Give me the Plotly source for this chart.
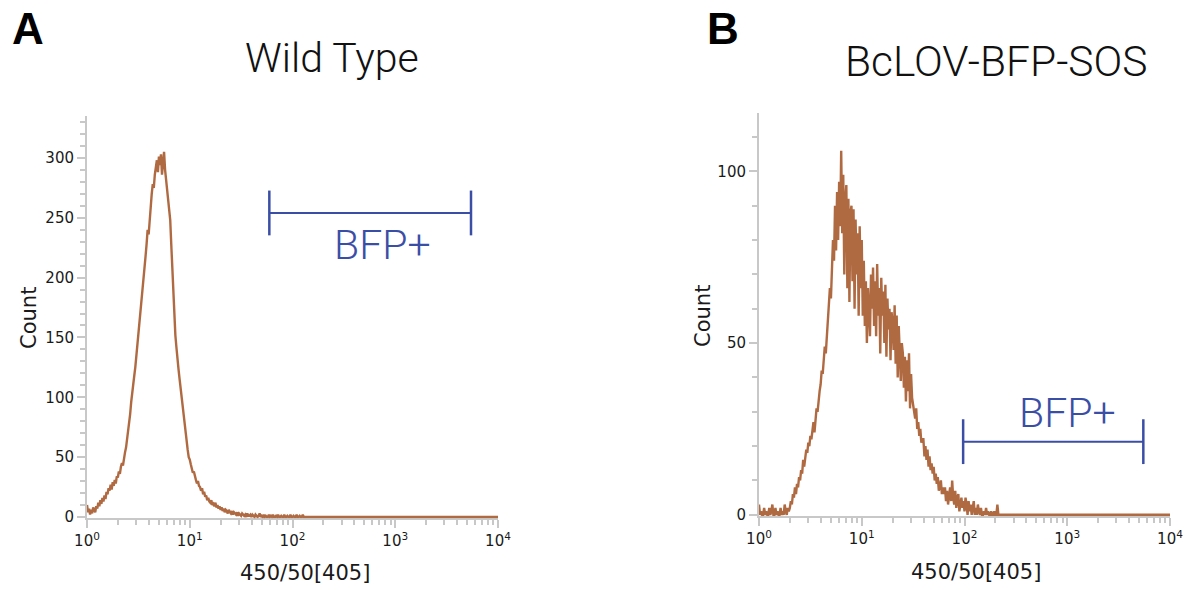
import math
import plotly.graph_objects as go

# ---------------- data ----------------
LOG_START = 0.0
LOG_STEP = 0.01
LOG_END = 4.0

# Wild Type histogram counts, one per log-bin (step 0.01 decade) starting at 10^0
wt_counts = [
    10, 4, 7, 2, 6, 3, 8, 5, 4, 9,
    7, 12, 9, 14, 11, 16, 13, 18, 15, 21,
    19, 24, 22, 27, 23, 29, 26, 31, 28, 34,
    33, 38, 36, 42, 45, 43, 50, 54, 58, 64,
    72, 78, 86, 96, 102, 110, 118, 125, 134, 141,
    150, 158, 168, 176, 186, 196, 204, 218, 228, 240,
    236, 250, 262, 270, 278, 275, 286, 292, 298, 288,
    301, 294, 303, 286, 299, 305, 290, 282, 272, 262,
    258, 248, 228, 205, 190, 170, 152, 142, 130, 124,
    116, 108, 104, 96, 88, 76, 68, 62, 56, 50,
    48, 44, 41, 37, 38, 33, 31, 28, 30, 26,
    25, 22, 24, 19, 21, 17, 18, 14, 16, 13,
    12, 14, 10, 11, 9, 12, 8, 10, 7, 9,
    6, 8, 5, 7, 4, 6, 5, 3, 6, 4,
    3, 5, 2, 4, 3, 2, 4, 1, 3, 2,
    1, 3, 2, 1, 2, 0, 3, 1, 1, 2,
    0, 2, 1, 0, 2, 1, 0, 1, 3, 0,
    1, 0, 2, 0, 1, 0, 0, 2, 0, 1,
    0, 2, 0, 0, 1, 0, 2, 0, 0, 1,
    0, 0, 2, 0, 0, 1, 0, 0, 2, 0,
    0, 1, 0, 0, 2, 0, 0, 1, 0, 0,
    2, 0, 0,
]

# BcLOV-BFP-SOS histogram counts, same binning
bclov_counts = [
    3, 0, 1, 0, 0, 2, 0, 1, 0, 0,
    2, 0, 1, 3, 0, 0, 2, 0, 1, 0,
    0, 2, 0, 1, 0, 3, 1, 0, 2, 1,
    2, 4, 3, 6, 5, 8, 6, 9, 8, 11,
    10, 13, 12, 16, 14, 17, 19, 18, 21, 20,
    23, 22, 25, 27, 24, 28, 31, 30, 34, 36,
    38, 42, 41, 46, 49, 47, 52, 55, 60, 66,
    63, 72, 80, 74, 90, 77, 94, 80, 97, 84,
    106, 82, 99, 70, 92, 96, 66, 92, 62, 88,
    90, 68, 89, 60, 86, 70, 82, 58, 84, 66,
    80, 58, 74, 55, 68, 50, 66, 60, 52, 70,
    60, 72, 55, 68, 52, 73, 58, 66, 47, 69,
    58, 65, 50, 67, 46, 63, 54, 60, 45, 59,
    56, 48, 61, 44, 58, 40, 55, 47, 39, 50,
    47, 37, 46, 33, 45, 36, 47, 31, 41, 34,
    32, 29, 28, 31, 25, 27, 23, 25, 21, 22,
    22, 17, 20, 16, 19, 14, 17, 13, 15, 12,
    14, 10, 12, 9, 11, 7, 9, 10, 6, 8,
    6, 8, 4, 7, 3, 6, 8, 4, 10, 5,
    3, 7, 2, 5, 6, 1, 4, 5, 2, 4,
    1, 5, 3, 0, 4, 1, 3, 0, 2, 4,
    0, 2, 0, 3, 1, 0, 2, 0, 0, 1,
    0, 2, 0, 1, 0, 0, 1, 0, 0, 1,
    0, 0, 3, 0,
]

x_tick_vals = [1, 10, 100, 1000, 10000]
x_tick_text = ["10<sup>0</sup>", "10<sup>1</sup>", "10<sup>2</sup>", "10<sup>3</sup>", "10<sup>4</sup>"]

panel_letters = ["A", "B"]
panel_titles = ["Wild Type", "BcLOV-BFP-SOS"]
x_title = "450/50[405]"
y_title = "Count"
gate_label = "BFP+"

# gates: [low, high, level]
wt_gate = [59.5, 5460, 254]
bclov_gate = [97, 5500, 21.3]

wt_y_max = 335
bclov_y_max = 117

# ---------------- style ----------------
W, H = 1199, 590
BROWN = "#b06a42"
BLUE = "#3b4ea6"
AXIS = "#c8c8c8"
TXT = "#1a1a1a"
LIGHT_FONT = "Roboto"


def bins(counts):
    n = int(round((LOG_END - LOG_START) / LOG_STEP)) + 1
    padded = list(counts) + [0] * (n - len(counts))
    xs = [10 ** (LOG_START + i * LOG_STEP) for i in range(n)]
    return xs, padded


def px_x(p):
    return p / W


def px_y(p):
    return 1 - p / H


fig = go.Figure()

panels = [
    dict(counts=wt_counts, gate=wt_gate, ymax=wt_y_max, x0=87, x1=498, base=517, top=116,
         ymin=-1.0, label_pos=(2.876, 227)),
    dict(counts=bclov_counts, gate=bclov_gate, ymax=bclov_y_max, x0=759, x1=1170, base=514.8, top=113,
         ymin=-0.35, label_pos=(3.007, 29.7)),
]

minor_x = [d * 10 ** e for e in range(4) for d in range(2, 10)]

for i, p in enumerate(panels):
    sfx = "" if i == 0 else str(i + 1)
    xa, ya = "x" + sfx, "y" + sfx
    xs, ys = bins(p["counts"])
    fig.add_trace(go.Scatter(x=xs, y=ys, mode="lines", xaxis=xa, yaxis=ya,
                             line=dict(color=BROWN, width=2.4), showlegend=False,
                             hoverinfo="skip"))
    lo, hi, lvl = p["gate"]
    fig.add_trace(go.Scatter(x=[lo, hi], y=[lvl, lvl], mode="lines+markers", xaxis=xa, yaxis=ya,
                             line=dict(color=BLUE, width=2),
                             marker=dict(symbol="line-ns-open", size=32,
                                         line=dict(color=BLUE, width=2.5)),
                             showlegend=False, hoverinfo="skip", cliponaxis=False))

    scale = (p["base"] - p["top"]) / p["ymax"]
    bottom_px = p["base"] - p["ymin"] * scale
    xdom = [px_x(p["x0"]), px_x(p["x1"])]
    ydom = [px_y(bottom_px), px_y(p["top"])]

    fig.update_layout(**{
        "xaxis" + sfx: dict(
            domain=xdom, anchor=ya, type="log", range=[0, 4], automargin=False,
            showline=True, linecolor=AXIS, linewidth=2, layer="below traces",
            showgrid=False, zeroline=False,
            tickmode="array", tickvals=x_tick_vals, ticktext=x_tick_text,
            ticks="outside", ticklen=8, tickwidth=2, tickcolor=AXIS,
            tickfont=dict(family="DejaVu Sans", size=15, color=TXT),
            minor=dict(tickmode="array", tickvals=minor_x, ticks="outside",
                       ticklen=5, tickwidth=1.5, tickcolor=AXIS, showgrid=False),
        ),
        "yaxis" + sfx: dict(
            domain=ydom, anchor=xa, range=[p["ymin"], p["ymax"]], automargin=False,
            showline=True, linecolor=AXIS, linewidth=2, layer="below traces",
            showgrid=False, zeroline=False,
            tickmode="linear", tick0=0, dtick=50,
            ticks="outside", ticklen=8, tickwidth=2, tickcolor=AXIS,
            tickfont=dict(family="DejaVu Sans", size=15, color=TXT),
            minor=dict(tickmode="linear", tick0=0, dtick=10, ticks="outside",
                       ticklen=5, tickwidth=1.5, tickcolor=AXIS, showgrid=False),
        ),
    })

    lx, ly = p["label_pos"]
    fig.add_annotation(x=lx, y=ly, xref=xa, yref=ya, text=gate_label, showarrow=False,
                       xanchor="center", yanchor="middle",
                       font=dict(family=LIGHT_FONT, size=41, color=BLUE, weight=300))

# titles, panel letters, axis titles (pixel positions)
title_pos = [(331.7, 58), (996.7, 61)]
title_sizes = [41, 42.5]
letter_pos = [(27.5, 28), (723, 28)]
xt_pos = [(305, 573), (976, 572)]
yt_pos = [(29, 318), (703, 316)]
for i in range(2):
    fig.add_annotation(x=px_x(title_pos[i][0]), y=px_y(title_pos[i][1]), xref="paper", yref="paper",
                       text=panel_titles[i], showarrow=False, xanchor="center", yanchor="middle",
                       font=dict(family=LIGHT_FONT, size=title_sizes[i], color="#111111", weight=300))
    fig.add_annotation(x=px_x(letter_pos[i][0]), y=px_y(letter_pos[i][1]), xref="paper", yref="paper",
                       text="<b>" + panel_letters[i] + "</b>", showarrow=False,
                       xanchor="center", yanchor="middle",
                       font=dict(family="Liberation Sans", size=44, color="#000000"))
    fig.add_annotation(x=px_x(xt_pos[i][0]), y=px_y(xt_pos[i][1]), xref="paper", yref="paper",
                       text=x_title, showarrow=False, xanchor="center", yanchor="middle",
                       font=dict(family="DejaVu Sans", size=21, color=TXT))
    fig.add_annotation(x=px_x(yt_pos[i][0]), y=px_y(yt_pos[i][1]), xref="paper", yref="paper",
                       text=y_title, showarrow=False, xanchor="center", yanchor="middle",
                       textangle=-90,
                       font=dict(family="DejaVu Sans", size=21, color=TXT))

fig.update_layout(width=W, height=H, margin=dict(l=0, r=0, t=0, b=0, autoexpand=False),
                  paper_bgcolor="white", plot_bgcolor="white", showlegend=False)

fig.write_html("out.html", config={"displayModeBar": False})
